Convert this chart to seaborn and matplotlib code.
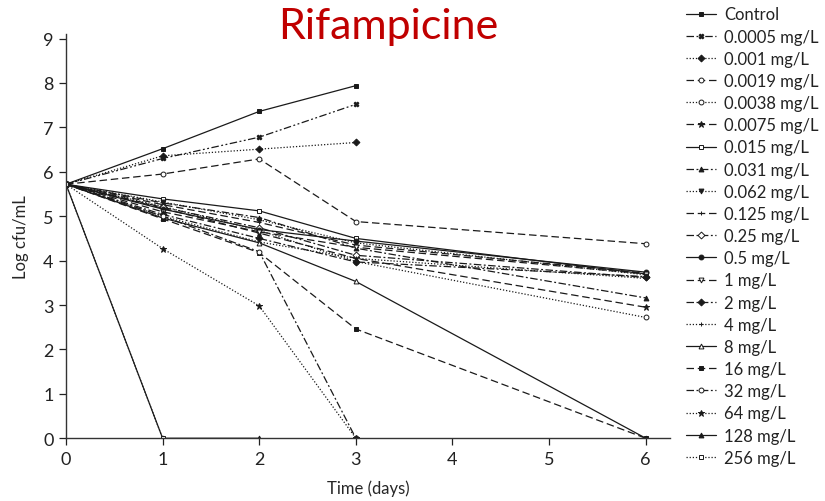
import numpy as np
import pandas as pd
import matplotlib
matplotlib.use("Agg")
import matplotlib.pyplot as plt
import seaborn as sns

sns.set_theme(style="ticks")
plt.rcParams["font.family"] = ["Lato", "DejaVu Sans"]

days = [0, 1, 2, 3, 6]

labels = ["Control", "0.0005 mg/L", "0.001 mg/L", "0.0019 mg/L", "0.0038 mg/L",
          "0.0075 mg/L", "0.015 mg/L", "0.031 mg/L", "0.062 mg/L", "0.125 mg/L",
          "0.25 mg/L", "0.5 mg/L", "1 mg/L", "2 mg/L", "4 mg/L", "8 mg/L",
          "16 mg/L", "32 mg/L", "64 mg/L", "128 mg/L", "256 mg/L"]

nan = np.nan
log_cfu = [
    [5.72, 6.52, 7.36, 7.94, nan],   # Control
    [5.72, 6.30, 6.78, 7.52, nan],   # 0.0005
    [5.72, 6.36, 6.51, 6.66, nan],   # 0.001
    [5.72, 5.95, 6.29, 4.88, 4.38],  # 0.0019
    [5.72, 5.22, 4.68, 3.98, 2.72],  # 0.0038
    [5.72, 5.18, 4.62, 4.05, 2.95],  # 0.0075
    [5.72, 5.39, 5.12, 4.50, 3.70],  # 0.015
    [5.72, 5.30, 4.97, 4.28, 3.16],  # 0.031
    [5.72, 5.32, 4.92, 4.40, 3.68],  # 0.062
    [5.72, 5.26, 4.86, 4.35, 3.72],  # 0.125
    [5.72, 5.20, 4.74, 4.12, 3.62],  # 0.25
    [5.72, 5.16, 4.70, 4.44, 3.74],  # 0.5
    [5.72, 5.10, 4.65, 4.30, 3.70],  # 1
    [5.72, 5.04, 4.50, 3.97, 3.64],  # 2
    [5.72, 5.00, 4.42, 4.05, 3.60],  # 4
    [5.72, 4.96, 4.40, 3.53, 0.00],  # 8
    [5.72, 4.94, 4.18, 2.46, 0.00],  # 16
    [5.72, 5.00, 4.20, 0.00, nan],   # 32
    [5.72, 4.27, 2.98, 0.00, nan],   # 64
    [5.72, 0.00, 0.00, nan, nan],    # 128
    [5.72, 0.00, nan, nan, nan],     # 256
]

dash = (0, (6, 3))
dashdot = (0, (6, 2, 1.5, 2))
dashdotdot = (0, (6, 2, 1.5, 2, 1.5, 2))
dot = (0, (1, 1.5))

styles = [
    ("-", "s", True),          # Control
    (dashdotdot, "X", True),   # 0.0005
    (dot, "D", True),          # 0.001
    (dash, "o", False),        # 0.0019
    (dot, "o", False),         # 0.0038
    (dash, "*", True),         # 0.0075
    ("-", "s", False),         # 0.015
    (dashdot, "^", True),      # 0.031
    (dot, "v", True),          # 0.062
    (dash, "+", True),         # 0.125
    (dashdot, "D", False),     # 0.25
    ("-", "o", True),          # 0.5
    (dash, "v", False),        # 1
    (dashdot, "D", True),      # 2
    (dot, "+", True),          # 4
    ("-", "^", False),         # 8
    (dash, "s", True),         # 16
    (dashdot, "o", False),     # 32
    (dot, "*", True),          # 64
    ("-", "^", True),          # 128
    (dot, "s", False),         # 256
]

fig = plt.figure(figsize=(8.25, 5.02), dpi=100)
ax = fig.add_axes([0.08, 0.125, 0.732, 0.805])

for name, vals, (ls, mk, filled) in zip(labels, log_cfu, styles):
    df = pd.DataFrame({"day": days, "cfu": vals}).dropna()
    sns.lineplot(data=df, x="day", y="cfu", ax=ax, color="#1a1a1a", lw=0.9,
                 linestyle=ls, marker=mk, markersize=3.5 if mk != "*" else 5,
                 markerfacecolor="#1a1a1a" if filled else "white",
                 markeredgecolor="#1a1a1a", markeredgewidth=0.7,
                 label=name, sort=False)

ax.set_xlim(0, 6.25)
ax.set_ylim(0, 9.1)
ax.set_xticks(range(0, 7))
ax.set_yticks(range(0, 10))
ax.set_xlabel("Time (days)", fontsize=12, labelpad=9)
ax.set_ylabel("Log cfu/mL", fontsize=12, labelpad=10)
ax.tick_params(labelsize=13, direction="out", length=5, width=0.9,
               colors="#222222", pad=4)
for side in ("left", "bottom"):
    ax.spines[side].set_linewidth(1.0)
    ax.spines[side].set_color("#333333")
sns.despine(ax=ax)

leg = ax.legend(loc="upper left", bbox_to_anchor=(1.0156, 1.085), frameon=False,
                fontsize=12, handlelength=1.8, handletextpad=0.5,
                labelspacing=0.37, borderaxespad=0)
for t in leg.get_texts():
    t.set_color("#222222")

fig.text(0.47, 0.946, "Rifampicine", color="#C00000", fontsize=31,
         ha="center", va="center")

fig.savefig("out.png", dpi=100)
